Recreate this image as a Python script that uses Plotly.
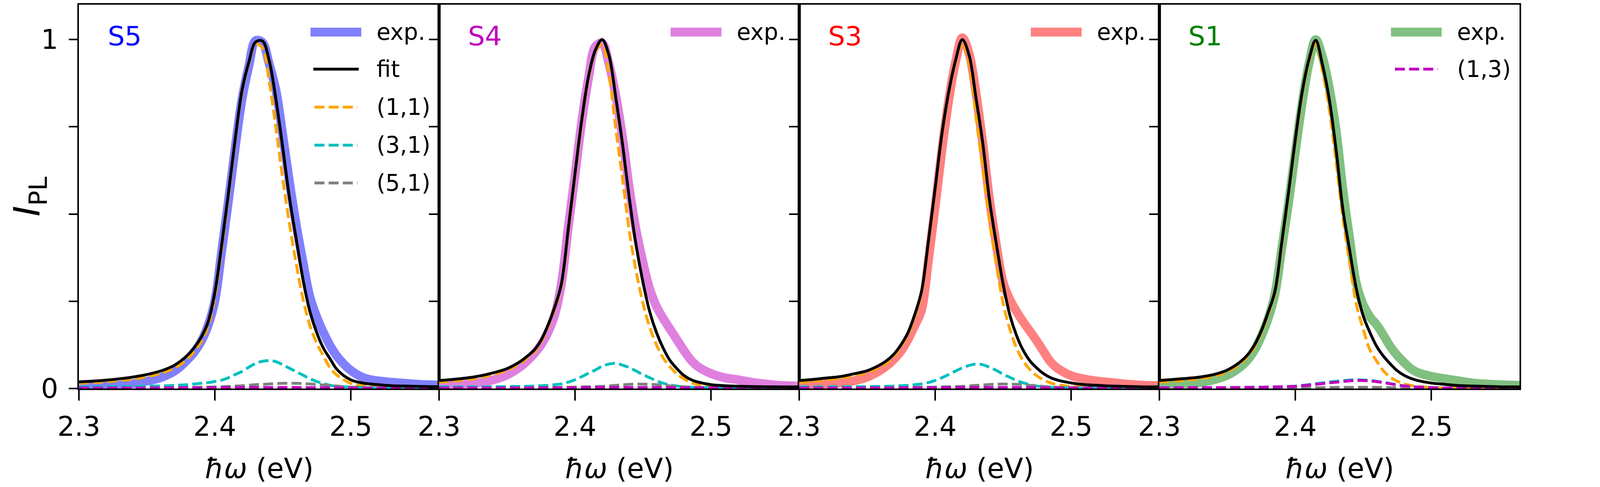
import plotly.graph_objects as go

# photon energy grid (eV), shared by all four panels
energy = [2.30, 2.31, 2.32, 2.33, 2.34, 2.35, 2.36, 2.365, 2.37, 2.375,
          2.38, 2.385, 2.39, 2.395, 2.40, 2.405, 2.41, 2.415, 2.42, 2.425,
          2.43, 2.435, 2.44, 2.445, 2.45, 2.455, 2.46, 2.465, 2.47, 2.475,
          2.48, 2.485, 2.49, 2.50, 2.51, 2.52, 2.53, 2.54, 2.55, 2.565]

# ---- S5 ----
s5_exp = [0.005, 0.006, 0.007, 0.010, 0.014, 0.021, 0.031, 0.039, 0.049, 0.064,
          0.083, 0.105, 0.135, 0.180, 0.250, 0.392, 0.537, 0.690, 0.829, 0.923,
          0.997, 0.992, 0.930, 0.854, 0.726, 0.590, 0.467, 0.360, 0.262, 0.205,
          0.160, 0.122, 0.092, 0.052, 0.030, 0.022, 0.018, 0.015, 0.012, 0.010]
s5_fit = [0.019, 0.021, 0.024, 0.028, 0.033, 0.040, 0.050, 0.057, 0.066, 0.079,
          0.096, 0.118, 0.147, 0.190, 0.275, 0.410, 0.559, 0.715, 0.854, 0.935,
          0.993, 0.996, 0.940, 0.828, 0.690, 0.545, 0.426, 0.310, 0.220, 0.160,
          0.115, 0.084, 0.054, 0.025, 0.015, 0.011, 0.008, 0.007, 0.006, 0.005]
s5_11 = [0.015, 0.017, 0.019, 0.023, 0.027, 0.034, 0.043, 0.050, 0.058, 0.070,
         0.086, 0.107, 0.135, 0.178, 0.262, 0.400, 0.552, 0.710, 0.850, 0.932,
         0.988, 0.975, 0.880, 0.745, 0.600, 0.470, 0.355, 0.255, 0.180, 0.130,
         0.092, 0.058, 0.038, 0.015, 0.007, 0.004, 0.003, 0.002, 0.002, 0.0015]
s5_31 = [0.004, 0.0045, 0.005, 0.0055, 0.006, 0.0065, 0.0075, 0.008, 0.009, 0.010,
         0.011, 0.013, 0.015, 0.017, 0.020, 0.024, 0.031, 0.040, 0.049, 0.061,
         0.072, 0.078, 0.080, 0.077, 0.068, 0.058, 0.048, 0.038, 0.028, 0.020,
         0.014, 0.009, 0.006, 0.004, 0.003, 0.002, 0.0015, 0.001, 0.001, 0.001]
s5_51 = [0.001, 0.001, 0.0012, 0.0014, 0.0016, 0.0018, 0.002, 0.0022, 0.0025, 0.0028,
         0.003, 0.0033, 0.0036, 0.004, 0.0045, 0.005, 0.006, 0.007, 0.008, 0.0095,
         0.011, 0.012, 0.013, 0.014, 0.015, 0.015, 0.015, 0.014, 0.013, 0.0115,
         0.010, 0.0085, 0.007, 0.004, 0.0025, 0.0015, 0.001, 0.001, 0.001, 0.001]
s5_13 = [0.0015, 0.0015, 0.0015, 0.0016, 0.0016, 0.0017, 0.0018, 0.0018, 0.0019, 0.002,
         0.002, 0.0021, 0.0022, 0.0023, 0.0024, 0.0025, 0.0026, 0.0027, 0.0028, 0.0029,
         0.003, 0.003, 0.003, 0.003, 0.003, 0.0029, 0.0028, 0.0027, 0.0025, 0.0023,
         0.0021, 0.0019, 0.0017, 0.0014, 0.0012, 0.001, 0.001, 0.001, 0.001, 0.001]

# ---- S4 ----
s4_exp = [0.009, 0.011, 0.013, 0.017, 0.025, 0.039, 0.063, 0.080, 0.100, 0.125,
          0.160, 0.210, 0.300, 0.460, 0.610, 0.765, 0.890, 0.980, 0.990, 0.930,
          0.840, 0.720, 0.574, 0.454, 0.362, 0.285, 0.235, 0.200, 0.170, 0.140,
          0.110, 0.083, 0.064, 0.043, 0.031, 0.025, 0.018, 0.013, 0.009, 0.007]
s4_fit = [0.023, 0.026, 0.030, 0.036, 0.045, 0.057, 0.078, 0.093, 0.110, 0.138,
          0.180, 0.232, 0.300, 0.455, 0.615, 0.770, 0.895, 0.970, 1.000, 0.955,
          0.835, 0.700, 0.545, 0.410, 0.305, 0.220, 0.160, 0.115, 0.080, 0.057,
          0.038, 0.026, 0.019, 0.011, 0.008, 0.0065, 0.0055, 0.005, 0.0045, 0.0045]
s4_11 = [0.018, 0.021, 0.025, 0.031, 0.040, 0.052, 0.073, 0.088, 0.105, 0.133,
         0.175, 0.227, 0.295, 0.450, 0.610, 0.765, 0.890, 0.965, 0.985, 0.900,
         0.745, 0.600, 0.450, 0.335, 0.245, 0.175, 0.125, 0.087, 0.062, 0.042,
         0.028, 0.018, 0.012, 0.006, 0.004, 0.003, 0.002, 0.002, 0.0015, 0.0015]
s4_31 = [0.0045, 0.0045, 0.0045, 0.005, 0.005, 0.0055, 0.006, 0.0065, 0.007, 0.008,
         0.009, 0.011, 0.013, 0.018, 0.025, 0.034, 0.044, 0.053, 0.064, 0.070,
         0.072, 0.067, 0.060, 0.050, 0.040, 0.031, 0.022, 0.015, 0.010, 0.007,
         0.0045, 0.0035, 0.003, 0.002, 0.0015, 0.001, 0.001, 0.001, 0.001, 0.001]
s4_51 = [0.001, 0.001, 0.001, 0.0012, 0.0014, 0.0016, 0.0018, 0.002, 0.0022, 0.0024,
         0.0026, 0.0028, 0.003, 0.0035, 0.004, 0.0045, 0.005, 0.0055, 0.006, 0.0075,
         0.009, 0.0105, 0.012, 0.0127, 0.0125, 0.012, 0.011, 0.0095, 0.0075, 0.006,
         0.005, 0.004, 0.0035, 0.0025, 0.0018, 0.0013, 0.001, 0.001, 0.001, 0.001]
s4_13 = [0.0015, 0.0015, 0.0015, 0.0016, 0.0016, 0.0017, 0.0018, 0.0018, 0.0019, 0.002,
         0.002, 0.0021, 0.0022, 0.0023, 0.0024, 0.0025, 0.0026, 0.0027, 0.0028, 0.0029,
         0.003, 0.003, 0.003, 0.003, 0.0029, 0.0028, 0.0027, 0.0025, 0.0023, 0.0021,
         0.0019, 0.0017, 0.0015, 0.0013, 0.0011, 0.001, 0.001, 0.001, 0.001, 0.001]

# ---- S3 ----
s3_exp = [0.009, 0.0105, 0.013, 0.016, 0.022, 0.033, 0.053, 0.067, 0.085, 0.108,
          0.140, 0.180, 0.225, 0.366, 0.520, 0.684, 0.826, 0.935, 1.005, 0.960,
          0.848, 0.705, 0.542, 0.413, 0.305, 0.255, 0.220, 0.190, 0.163, 0.135,
          0.105, 0.076, 0.058, 0.037, 0.027, 0.021, 0.017, 0.013, 0.010, 0.008]
s3_fit = [0.023, 0.026, 0.030, 0.034, 0.042, 0.051, 0.069, 0.082, 0.100, 0.126,
          0.160, 0.212, 0.279, 0.420, 0.573, 0.730, 0.850, 0.940, 1.000, 0.955,
          0.834, 0.705, 0.540, 0.416, 0.300, 0.210, 0.151, 0.108, 0.078, 0.058,
          0.042, 0.031, 0.024, 0.016, 0.011, 0.009, 0.007, 0.006, 0.005, 0.0045]
s3_11 = [0.018, 0.021, 0.025, 0.029, 0.037, 0.046, 0.063, 0.076, 0.094, 0.120,
         0.154, 0.206, 0.273, 0.414, 0.567, 0.725, 0.845, 0.935, 0.990, 0.930,
         0.780, 0.630, 0.480, 0.355, 0.245, 0.170, 0.115, 0.078, 0.053, 0.036,
         0.024, 0.016, 0.011, 0.006, 0.004, 0.003, 0.002, 0.002, 0.0015, 0.0015]
s3_31 = [0.0045, 0.0045, 0.0045, 0.005, 0.005, 0.0055, 0.006, 0.0065, 0.007, 0.008,
         0.009, 0.011, 0.013, 0.017, 0.023, 0.031, 0.040, 0.050, 0.059, 0.066,
         0.070, 0.068, 0.061, 0.052, 0.041, 0.032, 0.023, 0.016, 0.011, 0.007,
         0.005, 0.0035, 0.003, 0.002, 0.0015, 0.001, 0.001, 0.001, 0.001, 0.001]
s3_51 = [0.001, 0.001, 0.001, 0.0012, 0.0014, 0.0016, 0.0018, 0.002, 0.0022, 0.0025,
         0.0028, 0.003, 0.0033, 0.0037, 0.004, 0.0045, 0.005, 0.0055, 0.006, 0.0075,
         0.009, 0.010, 0.0115, 0.0123, 0.0127, 0.0126, 0.012, 0.011, 0.009, 0.0075,
         0.006, 0.0045, 0.0035, 0.0025, 0.0018, 0.0013, 0.001, 0.001, 0.001, 0.001]
s3_13 = [0.0015, 0.0015, 0.0015, 0.0016, 0.0016, 0.0017, 0.0018, 0.0018, 0.0019, 0.002,
         0.002, 0.0021, 0.0022, 0.0023, 0.0024, 0.0025, 0.0026, 0.0027, 0.0028, 0.0029,
         0.003, 0.003, 0.003, 0.003, 0.003, 0.0029, 0.0028, 0.0026, 0.0024, 0.0022,
         0.002, 0.0018, 0.0016, 0.0014, 0.0012, 0.001, 0.001, 0.001, 0.001, 0.001]

# ---- S1 ----
s1_exp = [0.009, 0.011, 0.013, 0.017, 0.025, 0.038, 0.063, 0.082, 0.110, 0.150,
          0.200, 0.270, 0.400, 0.530, 0.677, 0.817, 0.930, 1.000, 0.950, 0.862,
          0.740, 0.571, 0.430, 0.300, 0.240, 0.205, 0.182, 0.152, 0.120, 0.095,
          0.075, 0.057, 0.046, 0.035, 0.028, 0.022, 0.016, 0.013, 0.011, 0.009]
s1_fit = [0.023, 0.026, 0.029, 0.033, 0.040, 0.053, 0.078, 0.097, 0.125, 0.165,
          0.218, 0.278, 0.417, 0.561, 0.713, 0.848, 0.942, 0.998, 0.928, 0.829,
          0.685, 0.514, 0.396, 0.284, 0.208, 0.160, 0.120, 0.092, 0.070, 0.051,
          0.038, 0.029, 0.023, 0.0157, 0.012, 0.0085, 0.007, 0.006, 0.005, 0.0045]
s1_11 = [0.018, 0.021, 0.024, 0.028, 0.035, 0.048, 0.073, 0.092, 0.120, 0.160,
         0.212, 0.272, 0.410, 0.555, 0.706, 0.840, 0.935, 0.990, 0.910, 0.800,
         0.650, 0.490, 0.360, 0.240, 0.170, 0.110, 0.078, 0.050, 0.032, 0.021,
         0.013, 0.009, 0.006, 0.003, 0.002, 0.0015, 0.001, 0.001, 0.001, 0.001]
s1_31 = [0.002, 0.002, 0.0022, 0.0024, 0.0026, 0.0028, 0.003, 0.0032, 0.0035, 0.0038,
         0.0042, 0.0047, 0.0053, 0.006, 0.0068, 0.0088, 0.011, 0.0135, 0.016, 0.0185,
         0.0205, 0.0225, 0.0242, 0.025, 0.0245, 0.023, 0.0205, 0.0175, 0.014, 0.0105,
         0.0078, 0.0057, 0.0042, 0.0026, 0.0016, 0.001, 0.001, 0.001, 0.001, 0.001]
s1_51 = [0.0005, 0.0005, 0.0006, 0.0007, 0.0008, 0.0009, 0.001, 0.001, 0.0011, 0.0012,
         0.0013, 0.0014, 0.0015, 0.0016, 0.0018, 0.002, 0.0022, 0.0024, 0.0026, 0.0028,
         0.003, 0.0032, 0.0033, 0.0034, 0.0034, 0.0033, 0.0031, 0.0028, 0.0025, 0.0021,
         0.0018, 0.0015, 0.0012, 0.0008, 0.0006, 0.0005, 0.0005, 0.0005, 0.0005, 0.0005]
s1_13 = [0.002, 0.002, 0.0022, 0.0024, 0.0026, 0.0028, 0.003, 0.0032, 0.0034, 0.0037,
         0.004, 0.0045, 0.005, 0.0055, 0.006, 0.008, 0.010, 0.012, 0.014, 0.0165,
         0.018, 0.020, 0.022, 0.023, 0.0228, 0.0215, 0.0195, 0.017, 0.0135, 0.010,
         0.0075, 0.0055, 0.004, 0.0025, 0.0015, 0.001, 0.001, 0.001, 0.001, 0.001]

x_ticks = [2.3, 2.4, 2.5]
x_ticktext = ['2.3', '2.4', '2.5']
y_ticks = [0, 0.25, 0.5, 0.75, 1]
y_labeled = [(0, '0'), (1, '1')]

# the browser shows the page 4096 css px wide and 1246 high, so horizontal
# sizes (given in reference pixels) are squeezed with sx(); text and line
# widths get a middle factor F
SX = 4096 / 4962
F = 0.91
BODY = 8  # default body margin of the html page


def sx(v):
    return v * SX


FONT = 'DejaVu Sans'
DASH = '%.1fpx,%.1fpx' % (sx(31), sx(13))
LW = 8 * F

# component line styles
comp_style = {
    '11': dict(color='#ffa500', width=LW, dash=DASH),
    '31': dict(color='#00bfbf', width=LW, dash=DASH),
    '51': dict(color='#808080', width=LW, dash=DASH),
    '13': dict(color='#bf00bf', width=LW, dash=DASH),
}
comp_name = {'11': '(1,1)', '31': '(3,1)', '51': '(5,1)', '13': '(1,3)'}
fit_style = dict(color='black', width=LW)
EXP_W = 25 * F

panels = [
    dict(label='S5', color='#0000ff', exp_color='#8080ff', exp=s5_exp, fit=s5_fit,
         comps={'11': s5_11, '31': s5_31, '51': s5_51, '13': s5_13},
         legend=['exp', 'fit', '11', '31', '51']),
    dict(label='S4', color='#bf00bf', exp_color='#df80df', exp=s4_exp, fit=s4_fit,
         comps={'11': s4_11, '31': s4_31, '51': s4_51, '13': s4_13},
         legend=['exp']),
    dict(label='S3', color='#ff0000', exp_color='#ff8080', exp=s3_exp, fit=s3_fit,
         comps={'11': s3_11, '31': s3_31, '51': s3_51, '13': s3_13},
         legend=['exp']),
    dict(label='S1', color='#008000', exp_color='#80c080', exp=s1_exp, fit=s1_fit,
         comps={'11': s1_11, '31': s1_31, '51': s1_51, '13': s1_13},
         legend=['exp', '13']),
]

# legend rows (axis domain units)
legend_rows = [0.9287, 0.832, 0.733, 0.634, 0.5356]

fig = go.Figure()
shapes = []
annotations = []

for i, p in enumerate(panels):
    n = '' if i == 0 else str(i + 1)
    xa, ya = 'x' + n, 'y' + n

    fig.add_trace(go.Scatter(x=energy, y=p['exp'], mode='lines', name='exp.',
                             line=dict(color=p['exp_color'], width=EXP_W, shape='spline'),
                             xaxis=xa, yaxis=ya, showlegend=False))
    for key in ['11', '31', '51', '13']:
        fig.add_trace(go.Scatter(x=energy, y=p['comps'][key], mode='lines',
                                 name=comp_name[key],
                                 line=dict(shape='spline', **comp_style[key]),
                                 xaxis=xa, yaxis=ya, showlegend=False))
    fig.add_trace(go.Scatter(x=energy, y=p['fit'], mode='lines', name='fit',
                             line=dict(shape='spline', **fit_style),
                             xaxis=xa, yaxis=ya, showlegend=False))

    axis_common = dict(ticks='outside', tickwidth=3.6, tickcolor='black',
                       showticklabels=False, showline=True, linewidth=3.6,
                       linecolor='black', mirror=True, showgrid=False, zeroline=False)
    fig.update_layout(**{
        'xaxis' + n: dict(domain=[i / 4, (i + 1) / 4], range=[2.3, 2.565], anchor=ya,
                          tickvals=x_ticks, ticklen=27, **axis_common),
        'yaxis' + n: dict(domain=[0, 1], range=[0, 1.1], anchor=xa,
                          tickvals=y_ticks, ticklen=sx(27), **axis_common),
    })

    xd, yd = xa + ' domain', ya + ' domain'

    # tick labels
    for xv, xt in zip(x_ticks, x_ticktext):
        annotations.append(dict(text=xt, xref=xa, yref='paper', x=xv, y=-0.0985,
                                xanchor='center', yanchor='middle', showarrow=False,
                                font=dict(family=FONT, size=76 * F, color='black')))
    if i == 0:
        for yv, yt in y_labeled:
            annotations.append(dict(text=yt, xref=xd, yref=ya, x=-0.0555, y=yv,
                                    xanchor='right', yanchor='middle', showarrow=False,
                                    font=dict(family=FONT, size=76 * F, color='black')))

    # sample label
    annotations.append(dict(text=p['label'], xref=xd, yref=yd, x=0.078, y=0.9185,
                            xanchor='left', yanchor='middle', showarrow=False,
                            font=dict(family=FONT, size=75 * F, color=p['color'])))
    # x title
    annotations.append(dict(text='<i>ħω</i> (eV)', xref=xd, yref='paper', x=0.5, y=-0.208,
                            xanchor='center', yanchor='middle', showarrow=False,
                            font=dict(family=FONT, size=78 * F, color='black')))

    # hand drawn legend, one per panel
    for row, key in enumerate(p['legend']):
        y = legend_rows[row]
        if key == 'exp':
            line = dict(color=p['exp_color'], width=EXP_W)
            x0, x1, txt = 0.643, 0.784, 'exp.'
        elif key == 'fit':
            line = fit_style
            x0, x1, txt = 0.651, 0.777, 'fit'
        else:
            line = comp_style[key]
            x0, x1, txt = 0.654, 0.773, comp_name[key]
        shapes.append(dict(type='line', xref=xd, yref=yd, x0=x0, x1=x1, y0=y, y1=y,
                           line=line))
        annotations.append(dict(text=txt, xref=xd, yref=yd, x=0.8247, y=y,
                                xanchor='left', yanchor='middle', showarrow=False,
                                font=dict(family=FONT, size=64 * F, color='black')))

# y title
annotations.append(dict(text='<i>I</i><sub>PL</sub>', xref='paper', yref='paper',
                        x=-0.0345, y=0.5, xanchor='center', yanchor='middle',
                        textangle=-90, showarrow=False,
                        font=dict(family=FONT, size=92, color='black')))

fig.update_layout(
    width=sx(4962) - BODY, height=1246 - BODY,
    margin=dict(l=sx(245) - BODY, r=sx(250), t=12 - BODY, b=252,
                pad=0, autoexpand=False),
    paper_bgcolor='white', plot_bgcolor='white',
    showlegend=False,
    shapes=shapes, annotations=annotations,
    font=dict(family=FONT, color='black'),
)

fig.write_html('out.html')
